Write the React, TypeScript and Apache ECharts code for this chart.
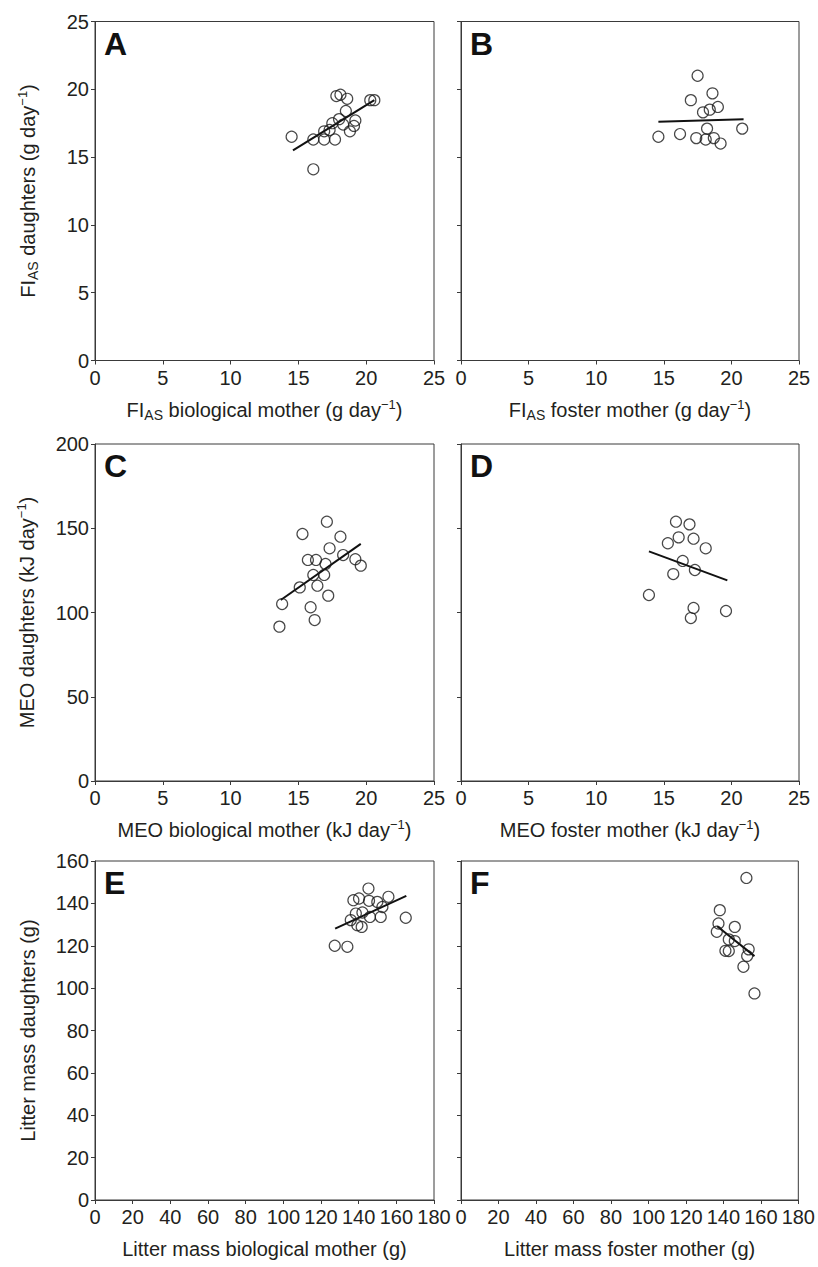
import React, { useEffect, useRef } from "react";
import * as echarts from "echarts";

// Panel A: FI_AS biological mother vs daughters
const fiBioX = [14.5, 16.1, 16.1, 16.9, 16.9, 17.5, 17.3, 17.7, 17.8, 18.1, 18.6, 18.5, 18.0, 18.3, 18.8, 19.1, 19.2, 20.3, 20.6];
const fiBioY = [16.5, 16.3, 14.1, 16.9, 16.3, 17.5, 17.0, 16.3, 19.5, 19.6, 19.3, 18.4, 17.8, 17.4, 16.9, 17.3, 17.7, 19.2, 19.2];
const fiBioFit = [[14.6, 15.5], [20.6, 19.2]];

// Panel B: FI_AS foster mother vs daughters
const fiFosX = [14.6, 16.2, 17.5, 17.0, 18.6, 17.9, 18.4, 19.0, 18.2, 17.4, 18.1, 18.7, 19.2, 20.8];
const fiFosY = [16.5, 16.7, 21.0, 19.2, 19.7, 18.3, 18.5, 18.7, 17.1, 16.4, 16.3, 16.4, 16.0, 17.1];
const fiFosFit = [[14.6, 17.6], [20.9, 17.8]];

// Panel C: MEO biological mother vs daughters
const meoBioX = [13.6, 13.8, 15.1, 15.3, 15.7, 16.3, 15.9, 16.2, 16.1, 16.4, 17.0, 16.9, 17.3, 17.1, 17.2, 18.1, 18.3, 19.2, 19.6];
const meoBioY = [91.6, 105.0, 114.9, 146.6, 131.2, 131.2, 103.1, 95.5, 122.3, 115.9, 128.8, 122.3, 138.1, 153.9, 110.0, 145.0, 134.1, 131.6, 127.8];
const meoBioFit = [[13.7, 107.4], [19.6, 140.7]];

// Panel D: MEO foster mother vs daughters
const meoFosX = [15.9, 16.9, 16.1, 17.2, 15.3, 18.1, 16.4, 15.7, 17.3, 13.9, 17.2, 17.0, 19.6];
const meoFosY = [153.9, 152.3, 144.6, 143.8, 141.1, 138.1, 130.6, 122.8, 125.2, 110.4, 102.7, 96.7, 100.9];
const meoFosFit = [[13.9, 136.3], [19.7, 119.1]];

// Panel E: litter mass biological mother vs daughters
const lmBioX = [127.3, 134.0, 135.8, 139.3, 141.6, 138.5, 142.0, 146.0, 151.7, 152.6, 145.2, 137.2, 140.2, 145.5, 149.9, 155.8, 165.0];
const lmBioY = [120.0, 119.5, 132.1, 129.7, 128.9, 135.2, 135.7, 133.6, 133.6, 138.3, 147.0, 141.5, 142.3, 141.2, 140.7, 143.1, 133.2];
const lmBioFit = [[127.5, 128.1], [165.3, 143.5]];

// Panel F: litter mass foster mother vs daughters
const lmFosX = [152.3, 138.1, 137.4, 136.5, 146.1, 142.9, 146.1, 141.1, 142.9, 153.5, 152.7, 150.7, 156.6];
const lmFosY = [152.0, 136.8, 130.5, 126.6, 128.9, 123.0, 122.2, 117.6, 117.5, 118.3, 115.2, 110.1, 97.5];
const lmFosFit = [[136.7, 129.2], [156.6, 115.1]];

const panelLetters = ["A", "B", "C", "D", "E", "F"];

const xNames = [
  "{n|FI}{sub|AS}{n| biological mother (g day}{sup|−1}{n|)}",
  "{n|FI}{sub|AS}{n| foster mother (g day}{sup|−1}{n|)}",
  "{n|MEO biological mother (kJ day}{sup|−1}{n|)}",
  "{n|MEO foster mother (kJ day}{sup|−1}{n|)}",
  "{n|Litter mass biological mother (g)}",
  "{n|Litter mass foster mother (g)}",
];
const yNames = [
  "{n|FI}{sub|AS}{n| daughters (g day}{sup|−1}{n|)}",
  "",
  "{n|MEO daughters (kJ day}{sup|−1}{n|)}",
  "",
  "{n|Litter mass daughters (g)}",
  "",
];

const xRanges = [[0, 25, 5], [0, 25, 5], [0, 25, 5], [0, 25, 5], [0, 180, 20], [0, 180, 20]];
const yRanges = [[0, 25, 5], [0, 25, 5], [0, 200, 50], [0, 200, 50], [0, 160, 20], [0, 160, 20]];

const zip = (a: number[], b: number[]) => a.map((v, i) => [v, b[i]]);

const scatterSets = [
  zip(fiBioX, fiBioY),
  zip(fiFosX, fiFosY),
  zip(meoBioX, meoBioY),
  zip(meoFosX, meoFosY),
  zip(lmBioX, lmBioY),
  zip(lmFosX, lmFosY),
];
const fitSets = [fiBioFit, fiFosFit, meoBioFit, meoFosFit, lmBioFit, lmFosFit];

export default function App() {
  const ref = useRef<HTMLDivElement>(null);
  useEffect(() => {
    if (!ref.current) return;
    const chart = echarts.init(ref.current, null, { renderer: "svg" });
    const FONT = "Liberation Sans, Arial, sans-serif";
    const TXT = "#231f20";
    const AX = "#3a3a3a";
    const rich = {
      n: { fontSize: 20, fontFamily: FONT, color: TXT, lineHeight: 24, verticalAlign: "middle" },
      sub: { fontSize: 14, fontFamily: FONT, color: TXT, lineHeight: 24, verticalAlign: "bottom" },
      sup: { fontSize: 13, fontFamily: FONT, color: TXT, lineHeight: 24, verticalAlign: "top" },
    };
    const lefts = [95, 461];
    const widths = [339, 338];
    const tops = [21.5, 444, 861];
    const heights = [339, 337, 339];
    const yGaps = [55, 0, 56, 0, 55, 0];
    const grids: any[] = [];
    const xAxes: any[] = [];
    const yAxes: any[] = [];
    const series: any[] = [];
    const graphics: any[] = [];
    for (let i = 0; i < 6; i++) {
      const col = i % 2;
      const row = Math.floor(i / 2);
      grids.push({
        left: lefts[col],
        top: tops[row],
        width: widths[col],
        height: heights[row],
        show: true,
        borderColor: AX,
        borderWidth: 1,
        backgroundColor: "transparent",
      });
      const axisCommon = {
        axisLine: { show: true, lineStyle: { color: AX, width: 1 } },
        axisTick: { show: true, length: 4, inside: false, lineStyle: { color: AX } },
        splitLine: { show: false },
      };
      xAxes.push({
        type: "value",
        gridIndex: i,
        min: xRanges[i][0],
        max: xRanges[i][1],
        interval: xRanges[i][2],
        ...axisCommon,
        axisLabel: { show: true, fontSize: 20, fontFamily: FONT, color: TXT, margin: 7, showMinLabel: true, showMaxLabel: true, hideOverlap: false },
        name: xNames[i],
        nameLocation: "middle",
        nameGap: 37,
        nameTextStyle: { rich },
      });
      yAxes.push({
        type: "value",
        gridIndex: i,
        min: yRanges[i][0],
        max: yRanges[i][1],
        interval: yRanges[i][2],
        ...axisCommon,
        axisLabel: { show: col === 0, fontSize: 20, fontFamily: FONT, color: TXT, margin: 6 },
        name: yNames[i],
        nameLocation: "middle",
        nameGap: yGaps[i],
        nameRotate: 90,
        nameTextStyle: { rich },
      });
      series.push({
        type: "scatter",
        xAxisIndex: i,
        yAxisIndex: i,
        data: scatterSets[i],
        symbol: "circle",
        symbolSize: 11,
        itemStyle: { color: "rgba(255,255,255,0)", borderColor: "#1a1a1a", borderWidth: 1.2 },
        emphasis: { disabled: true },
        z: 3,
      });
      series.push({
        type: "line",
        xAxisIndex: i,
        yAxisIndex: i,
        data: fitSets[i],
        symbol: "none",
        lineStyle: { color: "#111", width: 2 },
        z: 2,
      });
      graphics.push({
        type: "text",
        left: lefts[col] + 9,
        top: tops[row] + 6,
        style: { text: panelLetters[i], fontSize: 32, fontWeight: "bold", fontFamily: FONT, fill: "#111" },
      });
    }
    chart.setOption({
      animation: false,
      backgroundColor: "#ffffff",
      grid: grids,
      xAxis: xAxes,
      yAxis: yAxes,
      series,
      graphic: graphics,
    });
    return () => chart.dispose();
  }, []);
  return (
    <div
      ref={ref}
      style={{ position: "absolute", left: 0, top: 0, width: 818, height: 1267 }}
    />
  );
}
